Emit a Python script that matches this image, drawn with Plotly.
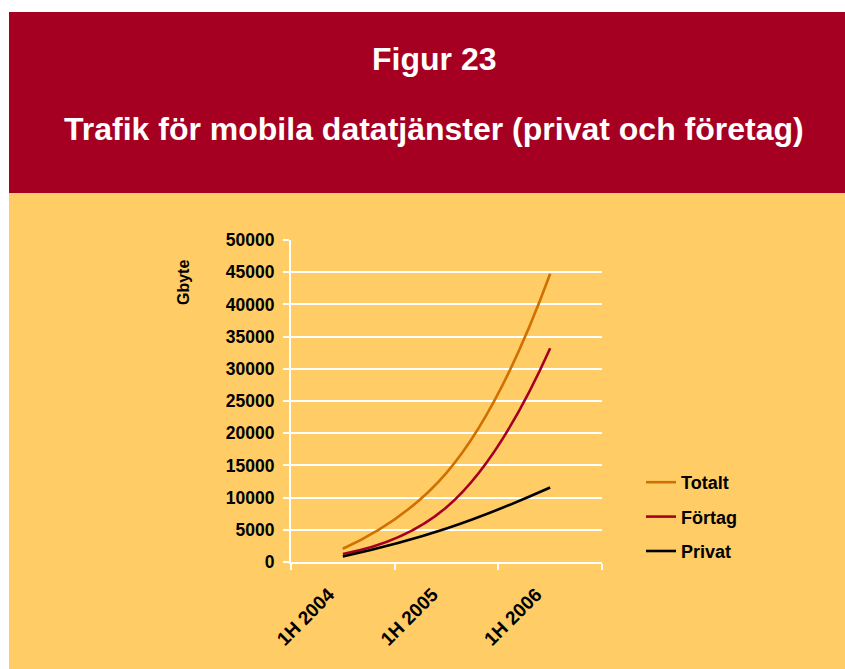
import plotly.graph_objects as go

categories = ["1H 2004", "1H 2005", "1H 2006"]
totalt = [2050, 13850, 44750]
fortag = [1250, 8500, 33200]
privat = [850, 5200, 11570]

series_names = ["Totalt", "Förtag", "Privat"]
series_values = [totalt, fortag, privat]
series_colors = ["#D07000", "#A50021", "#000000"]

y_ticks = list(range(0, 50001, 5000))

RED = "#A50021"
YELLOW = "#FFCC66"
FONT = "Liberation Sans, Arial, sans-serif"

W, H = 845, 669
L, R, T, B = 291, 243, 240, 107
PW, PH = W - L - R, H - T - B


def px(x):
    return (x - L) / PW


def py(y):
    return (H - B - y) / PH


fig = go.Figure()
for i, (name, vals, col) in enumerate(zip(series_names, series_values, series_colors)):
    fig.add_trace(go.Scatter(
        x=categories, y=vals, name=f"<b>{name}</b>", mode="lines",
        line=dict(color=col, width=2.6, shape="spline", smoothing=1.3),
        legendgroup=f"g{i}",
    ))

shapes = [
    dict(type="rect", xref="paper", yref="paper", x0=px(0), x1=px(W), y0=py(12), y1=py(0),
         fillcolor="white", line=dict(width=0), layer="above"),
    dict(type="rect", xref="paper", yref="paper", x0=px(0), x1=px(9), y0=py(H), y1=py(0),
         fillcolor="white", line=dict(width=0), layer="above"),
    dict(type="rect", xref="paper", yref="paper", x0=px(9), x1=px(W), y0=py(193), y1=py(12),
         fillcolor=RED, line=dict(width=0), layer="above"),
]

annotations = [
    dict(text="<b>Figur 23</b>", xref="paper", yref="paper", x=px(434), y=py(59),
         xanchor="center", yanchor="middle", showarrow=False,
         font=dict(family=FONT, size=32, color="white")),
    dict(text="<b>Trafik för mobila datatjänster (privat och företag)</b>", xref="paper", yref="paper",
         x=px(434), y=py(129), xanchor="center", yanchor="middle", showarrow=False,
         font=dict(family=FONT, size=32, color="white")),
    dict(text="<b>Gbyte</b>", xref="paper", yref="paper", x=px(183), y=py(283),
         xanchor="center", yanchor="middle", showarrow=False, textangle=-90,
         font=dict(family=FONT, size=16, color="black")),
]

fig.update_layout(
    width=W, height=H,
    margin=dict(l=L, r=R, t=T, b=B, pad=0),
    paper_bgcolor=YELLOW, plot_bgcolor=YELLOW,
    shapes=shapes, annotations=annotations,
    showlegend=True,
    legend=dict(x=px(641), y=py(464), xanchor="left", yanchor="top",
                bgcolor="rgba(0,0,0,0)", tracegroupgap=8,
                font=dict(family=FONT, size=18, color="black")),
    font=dict(family=FONT, color="black"),
)

fig.update_xaxes(
    type="category", categoryorder="array", categoryarray=categories,
    range=[-0.5, 2.5], tickson="boundaries",
    showline=True, linecolor="white", linewidth=2,
    ticks="outside", ticklen=6, tickwidth=2, tickcolor="white",
    showgrid=False, zeroline=False, tickangle=-45,
    tickfont=dict(family=FONT, size=19, color="black"),
    tickprefix="<b>", ticksuffix="</b>",
    ticklabelstandoff=12, ticklabelshift=-14,
)
fig.update_yaxes(
    range=[0, 50000], tickvals=y_ticks, ticktext=[f"<b>{v}</b>" for v in y_ticks],
    showline=True, linecolor="white", linewidth=2,
    ticks="outside", ticklen=6, tickwidth=2, tickcolor="white",
    showgrid=True, gridcolor="white", gridwidth=2, zeroline=False,
    tickfont=dict(family=FONT, size=17.5, color="black"),
    ticklabelstandoff=5,
)

fig.write_html("out.html", config={"displayModeBar": False},
               post_script="document.body.style.margin='0';document.body.style.overflow='hidden';")
